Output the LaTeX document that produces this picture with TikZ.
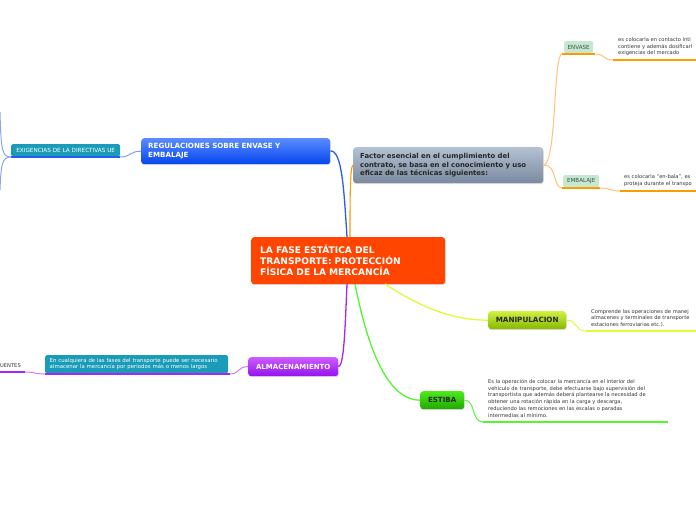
\documentclass[tikz,border=0pt]{standalone}
\usepackage{fontspec}
\setmainfont{DejaVu Sans}
\usetikzlibrary{shadows}
\definecolor{cOrange}{HTML}{FF4500}
\definecolor{cBlueT}{HTML}{5A8CFF}
\definecolor{cBlueB}{HTML}{0545EE}
\definecolor{cBlueL}{HTML}{2A5CF0}
\definecolor{cGrayT}{HTML}{B3C1D3}
\definecolor{cGrayB}{HTML}{7B8A9E}
\definecolor{cYgT}{HTML}{D2F040}
\definecolor{cYgB}{HTML}{86B800}
\definecolor{cYgL}{HTML}{D8FF3A}
\definecolor{cGrT}{HTML}{4CEB1A}
\definecolor{cGrB}{HTML}{1FA800}
\definecolor{cGrL}{HTML}{55F532}
\definecolor{cPuT}{HTML}{CC5CFF}
\definecolor{cPuB}{HTML}{9412EE}
\definecolor{cPuL}{HTML}{A826F0}
\definecolor{cTeal}{HTML}{1A9CB8}
\definecolor{cMint}{HTML}{C6E7D0}
\definecolor{cMintTxt}{HTML}{3A5546}
\definecolor{cOrL}{HTML}{FF9A00}
\definecolor{cOrThin}{HTML}{FFC27A}
\definecolor{cTxt}{HTML}{333333}
\tikzset{
  mbox/.style={rounded corners=3pt, anchor=north west, inner ysep=0pt, align=left,
    drop shadow={opacity=0.25, shadow xshift=0.6pt, shadow yshift=-1pt}},
  tagbox/.style={rounded corners=1.5pt, anchor=north west, inner sep=0pt, align=center},
  desc/.style={anchor=north west, inner sep=0pt, align=left, text=cTxt,
    font=\fontsize{5.15}{6.8}\selectfont},
  uline/.style={line width=2pt},
  thin/.style={line width=1pt},
}
\begin{document}
\begin{tikzpicture}[x=1pt,y=-1pt]
\useasboundingbox (0,0) rectangle (696,520);
\clip (0,0) rectangle (696,520);

% central
\node[mbox, fill=cOrange, text=white, text width=176pt, inner xsep=9pt, minimum height=47pt,
  font=\bfseries\fontsize{9.1}{11}\selectfont] (C) at (251,237)
  {LA FASE ESTÁTICA DEL\\TRANSPORTE: PROTECCIÓN\\FÍSICA DE LA MERCANCÍA};

% regulaciones
\node[mbox, top color=cBlueT, bottom color=cBlueB, text=white, text width=175pt, inner xsep=7pt,
  minimum height=26pt, font=\bfseries\fontsize{7.1}{9}\selectfont] (R) at (141,138)
  {REGULACIONES SOBRE ENVASE Y\\EMBALAJE};
\node[tagbox, fill=cTeal, text=white, minimum width=109pt, minimum height=12pt,
  font=\fontsize{5.7}{6}\selectfont] (EX) at (11,144) {EXIGENCIAS DE LA DIRECTIVAS UE};
\coordinate (EXl) at (11,157);
\coordinate (EXr) at (120,157);
\coordinate (Lup) at (0,112);
\coordinate (Ldn) at (0,190);

% factor
\node[mbox, top color=cGrayT, bottom color=cGrayB, text=black!85, text width=176pt, inner xsep=7pt,
  minimum height=36pt, font=\bfseries\fontsize{6.9}{8.5}\selectfont] (F) at (353,147)
  {Factor esencial en el cumplimiento del\\contrato, se basa en el conocimiento y uso\\eficaz de las técnicas siguientes:};

% envase
\node[tagbox, fill=cMint, text=cMintTxt, minimum width=29pt, minimum height=12pt,
  font=\fontsize{5.6}{6}\selectfont] (EN) at (564,41) {ENVASE};
\coordinate (ENl) at (562,54);
\coordinate (ENr) at (595,54);
\node[desc] (ENt) at (618,37) {es colocarla en contacto ínti\\contiene y además dosificarl\\exigencias del mercado};
\coordinate (ENtl) at (613,60);
\coordinate (ENtr) at (700,60);

% embalaje
\node[tagbox, fill=cMint, text=cMintTxt, minimum width=36pt, minimum height=12pt,
  font=\fontsize{5.6}{6}\selectfont] (EM) at (563,175) {EMBALAJE};
\coordinate (EMl) at (562,188);
\coordinate (EMr) at (600,188);
\node[desc] (EMt) at (624,174.5) {es colocarla ``en-bala'', es\\proteja durante el transpo};
\coordinate (EMtl) at (620,191);
\coordinate (EMtr) at (700,191);

% manipulacion
\node[mbox, top color=cYgT, bottom color=cYgB, text=black!85, minimum width=78pt, minimum height=18pt,
  inner xsep=0pt, align=center, font=\bfseries\fontsize{7.2}{8}\selectfont] (M) at (488,311) {MANIPULACION};
\node[desc] (Mt) at (591,309) {Comprende las operaciones de manej\\almacenes y terminales de transporte\\estaciones ferroviarias etc.).};
\coordinate (Mtl) at (586,331);
\coordinate (Mtr) at (700,331);

% estiba
\node[mbox, top color=cGrT, bottom color=cGrB, text=black!85, minimum width=44pt, minimum height=18pt,
  inner xsep=0pt, align=center, font=\bfseries\fontsize{7.1}{8}\selectfont] (E) at (420,391) {ESTIBA};
\node[desc] (Et) at (488,379) {Es la operación de colocar la mercancía en el interior del\\vehículo de transporte, debe efectuarse bajo supervisión del\\transportista que además deberá plantearse la necesidad de\\obtener una rotación rápida en la carga y descarga,\\reduciendo las remociones en las escalas o paradas\\intermedias al mínimo.};
\coordinate (Etl) at (483,422);
\coordinate (Etr) at (668,422);

% almacenamiento
\node[mbox, top color=cPuT, bottom color=cPuB, text=white, minimum width=90pt, minimum height=19pt,
  inner xsep=0pt, align=center, font=\bfseries\fontsize{7}{8}\selectfont] (A) at (248,357) {ALMACENAMIENTO};
\node[tagbox, fill=cTeal, text=white, text width=174pt, inner xsep=4.5pt, minimum height=18pt, align=left,
  font=\fontsize{5.4}{6.6}\selectfont] (AQ) at (45,355)
  {En cualquiera de las fases del transporte puede ser necesario\\almacenar la mercancía por periodos más o menos largos};
\coordinate (AQl) at (45,374);
\coordinate (AQr) at (230,374);
\node[anchor=base east, inner sep=0pt, text=cTxt, font=\fontsize{5.2}{6}\selectfont] (U) at (21,367) {UENTES};
\coordinate (Ul) at (-5,372);
\coordinate (Ur) at (25,372);

% ---- main connectors
\coordinate (Ct1) at (347,237);
\coordinate (Ct2) at (350,237);
\coordinate (Cb1) at (347,284);
\coordinate (Cb2) at (355,284);
\coordinate (Cb3) at (385,284);
\draw[cBlueL, line width=1.3pt] (Ct1) .. controls (344,190) and (342,150) .. (R.north east |- 0,151);
\draw[cOrL, line width=1.1pt] (Ct2) .. controls (350,200) and (350,166) .. (F.west);
\draw[cPuL, line width=1.3pt] (Cb1) .. controls (345,330) and (344,366) .. (A.east);
\draw[cGrL, line width=1.3pt] (Cb2) .. controls (372,370) and (395,400) .. (E.west);
\draw[cYgL, line width=1.3pt] (Cb3) .. controls (425,310) and (455,320) .. (M.west);

% ---- regulaciones branch
\draw[cBlueL, uline] (EXl) -- (EXr);
\draw[cBlueL!60, thin] (EXr) .. controls (131,157) and (130,151) .. (R.west);
\draw[cBlueL!55, thin] (EXl) .. controls (2,157) and (1,150) .. (Lup);
\draw[cBlueL!55, thin] (EXl) .. controls (2,157) and (1,164) .. (Ldn);

% ---- factor branch
\draw[cOrThin, thin] (F.east) .. controls (557,164) and (553,54) .. (ENl);
\draw[cOrThin, thin] (F.east) .. controls (557,164) and (553,188) .. (EMl);
\draw[cOrL, uline] (ENl) -- (ENr);
\draw[cOrThin, thin] (ENr) .. controls (606,54) and (602,60) .. (ENtl);
\draw[cOrL, uline] (ENtl) -- (ENtr);
\draw[cOrL, uline] (EMl) -- (EMr);
\draw[cOrThin, thin] (EMr) .. controls (611,188) and (609,191) .. (EMtl);
\draw[cOrL, uline] (EMtl) -- (EMtr);

% ---- manipulacion / estiba
\draw[cYgL, thin] (M.east) .. controls (578,320) and (574,331) .. (Mtl);
\draw[cYgL, uline] (Mtl) -- (Mtr);
\draw[cGrL, thin] (E.east) .. controls (476,400) and (471,422) .. (Etl);
\draw[cGrL, uline] (Etl) -- (Etr);

% ---- almacenamiento
\draw[cPuL!60, thin] (A.west) .. controls (238,366) and (240,374) .. (AQr);
\draw[cPuL, uline] (AQl) -- (AQr);
\draw[cPuL!60, thin] (AQl) .. controls (35,374) and (35,372) .. (Ur);
\draw[cPuL, uline] (Ul) -- (Ur);
\end{tikzpicture}
\end{document}
